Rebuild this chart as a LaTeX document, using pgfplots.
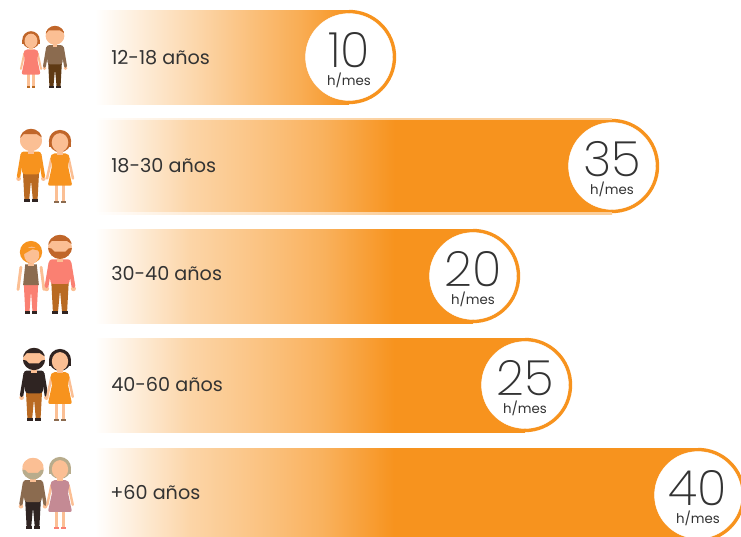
\documentclass[border=0pt]{standalone}
\usepackage{fontspec}
\setmainfont{Poppins}
\newfontfamily\lightf{Poppins}[UprightFont=* ExtraLight]
\usepackage{pgfplots}
\pgfplotsset{compat=1.18}
\usepackage{pgfplotstable}
\definecolor{ora}{HTML}{F7931E}
\definecolor{txt}{HTML}{333333}
\definecolor{skinc}{HTML}{FBBF94}
\definecolor{rust}{HTML}{C0662A}
\definecolor{salmon}{HTML}{FA8072}
\definecolor{taupe}{HTML}{8B6B4F}
\definecolor{choc}{HTML}{5F3A14}
\definecolor{tan}{HTML}{B96A22}
\definecolor{ink}{HTML}{2F2422}
\definecolor{greyh}{HTML}{B8AC8C}
\definecolor{mauve}{HTML}{C48A94}
% gradients: bbox maps to 25bp..75bp
\pgfdeclarehorizontalshading{barA}{100bp}{color(0bp)=(white); color(25bp)=(white); color(45.7bp)=(ora!39!white); color(55.5bp)=(ora!58!white); color(65.4bp)=(ora!76!white); color(73.2bp)=(ora!95!white); color(75bp)=(ora); color(100bp)=(ora)}
\pgfdeclarehorizontalshading{barB}{100bp}{color(0bp)=(white); color(25bp)=(white); color(34.2bp)=(ora!39!white); color(41.9bp)=(ora!58!white); color(47.05bp)=(ora!72!white); color(54bp)=(ora); color(100bp)=(ora)}
\pgfdeclarehorizontalshading{barC}{100bp}{color(0bp)=(white); color(25bp)=(white); color(37.6bp)=(ora!39!white); color(48.1bp)=(ora!58!white); color(55.2bp)=(ora!72!white); color(64.6bp)=(ora); color(100bp)=(ora)}
\pgfdeclarehorizontalshading{barD}{100bp}{color(0bp)=(white); color(25bp)=(white); color(36bp)=(ora!39!white); color(45.3bp)=(ora!58!white); color(51.5bp)=(ora!72!white); color(59.8bp)=(ora); color(100bp)=(ora)}
\pgfdeclarehorizontalshading{barE}{100bp}{color(0bp)=(white); color(25bp)=(white); color(32.9bp)=(ora!39!white); color(39.5bp)=(ora!58!white); color(43.9bp)=(ora!72!white); color(49.8bp)=(ora); color(100bp)=(ora)}
\pgfdeclareplotmark{rdisc}{\pgfpathmoveto{\pgfqpoint{0pt}{\pgfplotmarksize}}\pgfpatharc{90}{-90}{\pgfplotmarksize}\pgfpathclose\pgfusepathqfill}
% people, drawn in a 100-unit-tall box: #1 centre x, #2 head top y (px), #3 px per unit
\newcommand\place[3]{\begin{scope}[shift={({#1*0.75pt},{(536-#2)*0.75pt})},x=#3*0.75pt,y=-#3*0.75pt]}
% man: x,top,s,hair,beard,shirt,pants,shoes
\newcommand\man[8]{\place{#1}{#2}{#3}
 \fill[#7] (-11,60) -- (11,60) -- (9,97) -- (2.5,97) -- (0,70) -- (-2.5,97) -- (-9,97) -- cycle;
 \fill[#8] (-10,96) rectangle (-2,100); \fill[#8] (2,96) rectangle (10,100);
 \fill[skinc] (-17,68) circle (3.2); \fill[skinc] (17,68) circle (3.2);
 \draw[#6,line width={#3*3.6pt},line join=round,line cap=round] (-12,35) -- (-17,65);
 \draw[#6,line width={#3*3.6pt},line join=round,line cap=round] (12,35) -- (17,65);
 \fill[#6,rounded corners=2] (-14,31) -- (14,31) -- (12,62) -- (-12,62) -- cycle;
 \fill[skinc] (-4,26) rectangle (4,34);
 \fill[skinc] (0,15) circle (15);
 \begin{scope}\clip (0,15) circle (15.3);
  \fill[#4] (-17,-2) rectangle (17,7);
  \fill[#4] (-17,5) -- (17,5) -- (17,13) -- (8,7) -- (-10,7) -- (-17,15) -- cycle;
  \fill[#5] (-17,16) -- (-11,17) -- (-7,21) -- (7,21) -- (11,17) -- (17,16) -- (17,32) -- (-17,32) -- cycle;
 \end{scope}
\end{scope}}
% woman in a dress: x,top,s,hair,dress,shoes
\newcommand\woman[6]{\place{#1}{#2}{#3}
 \fill[skinc] (-6.5,75) rectangle (-2.5,98); \fill[skinc] (2.5,75) rectangle (6.5,98);
 \fill[#6] (-8,97) rectangle (-2,100); \fill[#6] (2,97) rectangle (8,100);
 \draw[skinc,line width={#3*2.6pt},line cap=round] (-12,38) -- (-18,66);
 \draw[skinc,line width={#3*2.6pt},line cap=round] (12,38) -- (18,66);
 \fill[#5,rounded corners=1.5] (-10,31) -- (10,31) -- (14,36) -- (12,44) -- (11,48) -- (17,76) -- (-17,76) -- (-11,48) -- (-12,44) -- (-14,36) -- cycle;
 \fill[#4] (0,14) circle (15.5);
 \fill[#4] (-15.5,14) rectangle (15.5,22);
 \fill[skinc] (-4,25) rectangle (4,33);
 \fill[skinc] (0,16) ellipse (11.5 and 13);
\end{scope}}
% woman in top and trousers: x,top,s,hair,top,pants,shoes
\newcommand\womanp[7]{\place{#1}{#2}{#3}
 \fill[#6] (-10,58) -- (10,58) -- (8,96) -- (2,96) -- (0,68) -- (-2,96) -- (-8,96) -- cycle;
 \fill[#7] (-9,96) rectangle (-2,100); \fill[#7] (2,96) rectangle (9,100);
 \draw[skinc,line width={#3*3pt},line cap=round] (-14,35) -- (-18,66);
 \draw[skinc,line width={#3*3pt},line cap=round] (14,35) -- (18,66);
 \fill[#5] (-8,31) -- (8,31) -- (11,60) -- (-11,60) -- cycle;
 \fill[skinc] (-4,26) rectangle (4,34);
 \fill[#4] (0,14) circle (15.5);
 \fill[skinc] (1,18) ellipse (10.5 and 11.5);
 \fill[#4] (-12,8) -- (11,8) -- (11,12) -- (2,10) -- (-12,18) -- cycle;
\end{scope}}
\begin{document}
\begin{tikzpicture}[x=1pt,y=1pt]
\useasboundingbox (0,0) rectangle (555.75pt,402pt);
\begin{axis}[
  at={(0,0)},anchor=south west,
  scale only axis,width=555.75pt,height=402pt,
  xmin=-95,xmax=646,ymin=0,ymax=536,
  y dir=reverse,hide axis,clip=true,
  xbar,bar shift=0pt,bar width=70.5pt,
]
% bar length from the bar's start to the centre of its circle, px
\addplot[xbar,draw=none,shade,shading=barA] coordinates {(254,57)};
\addplot[xbar,draw=none,shade,shading=barB,bar width=72pt,opacity=.45] coordinates {(517,166)};
\addplot[xbar,draw=none,shade,shading=barB,bar width=68.5pt] coordinates {(517,166)};
\addplot[xbar,draw=none,shade,shading=barC] coordinates {(378,276)};
\addplot[xbar,draw=none,shade,shading=barD] coordinates {(430,385)};
\addplot[xbar,draw=none,shade,shading=barE] coordinates {(603,495)};
% rounded bar ends
\addplot[only marks,mark=rdisc,mark size=35.4pt,mark options={fill=ora,draw=ora,line width=0pt},color=ora]
  coordinates {(254,57) (517,166) (378,276) (430,385) (603,495)};
% circles with the values
\addplot[only marks,mark=*,mark size=32.6pt,color=white,mark options={fill=white,draw=white,line width=0.3pt},
  nodes near coords={\textcolor{txt}{\fontsize{36.5pt}{37pt}\lightf\pgfplotspointmeta}},
  every node near coord/.style={anchor=center,yshift=5.5pt,inner sep=0pt},
  point meta=explicit symbolic]
  table[meta=v] {
x y v
254 57 10
517 166 35
378 276 20
430 385 25
603 495 40
};
\addplot[only marks,mark=none,draw=none,
  nodes near coords={\textcolor{txt}{\fontsize{10pt}{10pt}\selectfont h/mes}},
  every node near coord/.style={anchor=center,yshift=-17.5pt,inner sep=0pt}]
  coordinates {(254,57) (517,166) (378,276) (430,385) (603,495)};
% age-group labels
\addplot[only marks,mark=none,draw=none,
  nodes near coords={\textcolor{txt}{\fontsize{14.4pt}{15pt}\selectfont\pgfplotspointmeta}},
  every node near coord/.style={anchor=west,inner sep=0pt},
  point meta=explicit symbolic]
  table[meta=v] {
x y v
16 58 {12-18 años}
16 166 {18-30 años}
16 274 {30-40 años}
16 384 {40-60 años}
15 492 {+60 años}
};
\end{axis}
\woman{31}{32}{.56}{rust}{salmon}{tan}
\man{55}{26}{.62}{rust}{skinc}{taupe}{choc}{ink}
\man{31}{129}{.73}{rust}{skinc}{ora}{tan}{ink}
\woman{60}{131}{.72}{rust}{ora}{taupe}
\womanp{31}{242}{.72}{ora}{taupe}{salmon}{ink}
\man{60}{235}{.79}{rust}{rust}{salmon}{tan}{ink}
\man{34}{348}{.73}{ink}{ink}{ink}{tan}{ink}
\woman{60}{350}{.71}{ink}{ora}{taupe}
\man{33}{458}{.71}{skinc}{greyh}{taupe}{ink}{ink}
\woman{60}{458}{.71}{greyh}{mauve}{salmon}
\end{tikzpicture}
\end{document}
